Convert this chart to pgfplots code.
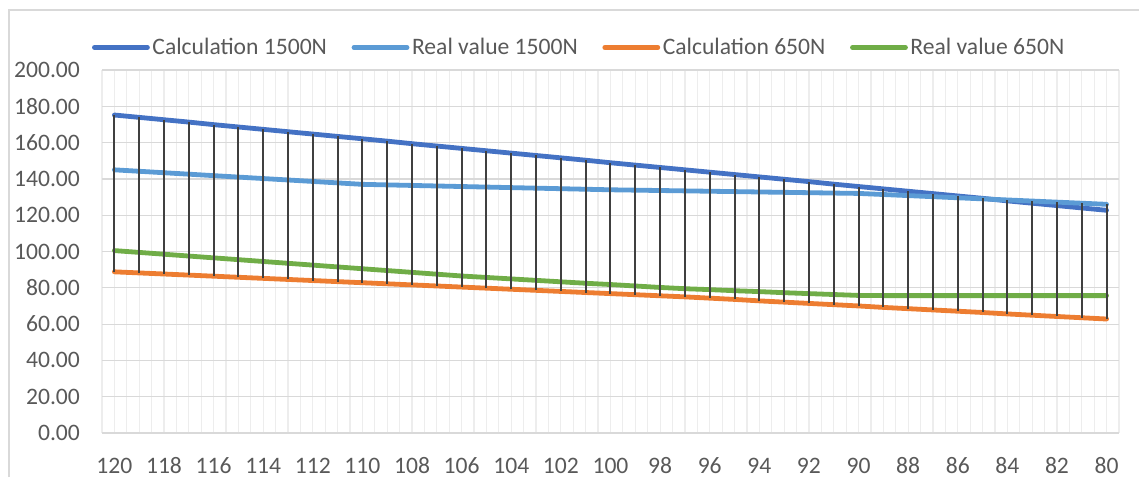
\documentclass[border=0pt]{standalone}
\usepackage{pgfplots}
\pgfplotsset{compat=1.18}
\usepackage{pgfplotstable}
\usepackage{fontspec}
\setmainfont{Carlito}

\definecolor{calcA}{HTML}{4472C4}
\definecolor{realA}{HTML}{5B9BD5}
\definecolor{calcB}{HTML}{ED7D31}
\definecolor{realB}{HTML}{70AD47}
\definecolor{txt}{HTML}{595959}
\definecolor{gridh}{HTML}{D9D9D9}
\definecolor{gridv}{HTML}{EDEDED}
\definecolor{hilo}{HTML}{404040}

\pgfplotstableread{
x   c1500  r1500  c650  r650
120 175.2  145.0  88.8  100.5
119 173.9  144.2  88.2  99.5
118 172.6  143.4  87.6  98.5
117 171.3  142.6  87.0  97.5
116 169.9  141.8  86.4  96.5
115 168.6  141.0  85.8  95.5
114 167.3  140.2  85.2  94.5
113 166.0  139.4  84.6  93.5
112 164.7  138.6  84.0  92.5
111 163.4  137.8  83.4  91.5
110 162.1  137.0  82.8  90.5
109 160.8  136.7  82.2  89.5
108 159.4  136.4  81.6  88.5
107 158.1  136.1  81.0  87.5
106 156.8  135.8  80.4  86.5
105 155.5  135.5  79.8  85.7
104 154.2  135.2  79.2  84.9
103 152.9  134.9  78.6  84.1
102 151.6  134.6  78.0  83.3
101 150.3  134.3  77.4  82.5
100 148.9  134.0  76.8  81.8
99  147.6  133.8  76.2  81.0
98  146.3  133.6  75.6  80.2
97  145.0  133.4  75.0  79.5
96  143.7  133.2  74.3  79.0
95  142.4  133.0  73.6  78.4
94  141.1  132.8  72.8  77.9
93  139.8  132.6  72.1  77.3
92  138.5  132.4  71.4  76.8
91  137.1  132.2  70.7  76.3
90  135.8  132.0  70.0  75.8
89  134.5  131.4  69.2  75.7
88  133.2  130.8  68.5  75.7
87  131.9  130.2  67.8  75.7
86  130.6  129.6  67.1  75.7
85  129.3  129.0  66.4  75.7
84  127.9  128.4  65.6  75.7
83  126.6  127.8  64.9  75.7
82  125.3  127.2  64.2  75.7
81  124.0  126.6  63.5  75.7
80  122.7  126.0  62.8  75.7
}\data

\begin{document}
\begin{tikzpicture}
\path[use as bounding box] (0,0) rectangle (569.5pt,238.5pt);
\draw[gridh, line width=0.75pt] (4.5pt,0) -- (4.5pt,233.5pt) -- (569.5pt,233.5pt);
\begin{axis}[
    at={(51pt,22pt)}, anchor=south west,
    scale only axis,
    width=508.5pt, height=181.5pt,
    x dir=reverse,
    xmin=79.5, xmax=120.5,
    ymin=0, ymax=200,
    xtick={80,82,...,120},
    ytick={0,20,...,200},
    minor xtick={79.5,80,...,120.5},
    xminorgrids, ymajorgrids,
    minor grid style={gridv, line width=0.6pt},
    major grid style={gridh, line width=0.6pt},
    axis line style={draw=none},
    major tick length=0pt, minor tick length=0pt,
    font=\fontsize{11.8}{14}\selectfont,
    tick label style={txt},
    /pgf/number format/assume math mode=true,
    yticklabel style={/pgf/number format/fixed, /pgf/number format/fixed zerofill,
        /pgf/number format/precision=2, anchor=east, xshift=-7.5pt},
    xticklabel style={anchor=base, yshift=-20pt},
    legend columns=4,
    legend cell align=left,
    legend style={at={(0.4695,1.062)}, anchor=center, draw=none, fill=none,
        text=txt, font=\fontsize{11.8}{14}\selectfont,
        nodes={inner xsep=1.3pt, inner ysep=1pt},
        /tikz/every even column/.append style={column sep=11pt}},
    legend image code/.code={\draw[#1, line cap=round] (0pt,0pt) -- (26.5pt,0pt);},
]
\addplot[calcA, line width=2.4pt, line cap=round, line join=round] table[x=x, y=c1500] {\data};
\addlegendentry{Calculation 1500N}
\addplot[realA, line width=2.4pt, line cap=round, line join=round] table[x=x, y=r1500] {\data};
\addlegendentry{Real value 1500N}
\addplot[calcB, line width=2.4pt, line cap=round, line join=round] table[x=x, y=c650] {\data};
\addlegendentry{Calculation 650N}
\addplot[realB, line width=2.4pt, line cap=round, line join=round] table[x=x, y=r650] {\data};
\addlegendentry{Real value 650N}
% high-low lines
\addplot[draw=none, mark=none, forget plot,
    error bars/.cd, y dir=plus, y explicit, error mark=none,
    error bar style={hilo, line width=1pt}]
    table[x=x, y=c650, y error plus expr={max(\thisrow{c1500},\thisrow{r1500})-\thisrow{c650}}] {\data};
\end{axis}
\end{tikzpicture}
\end{document}
